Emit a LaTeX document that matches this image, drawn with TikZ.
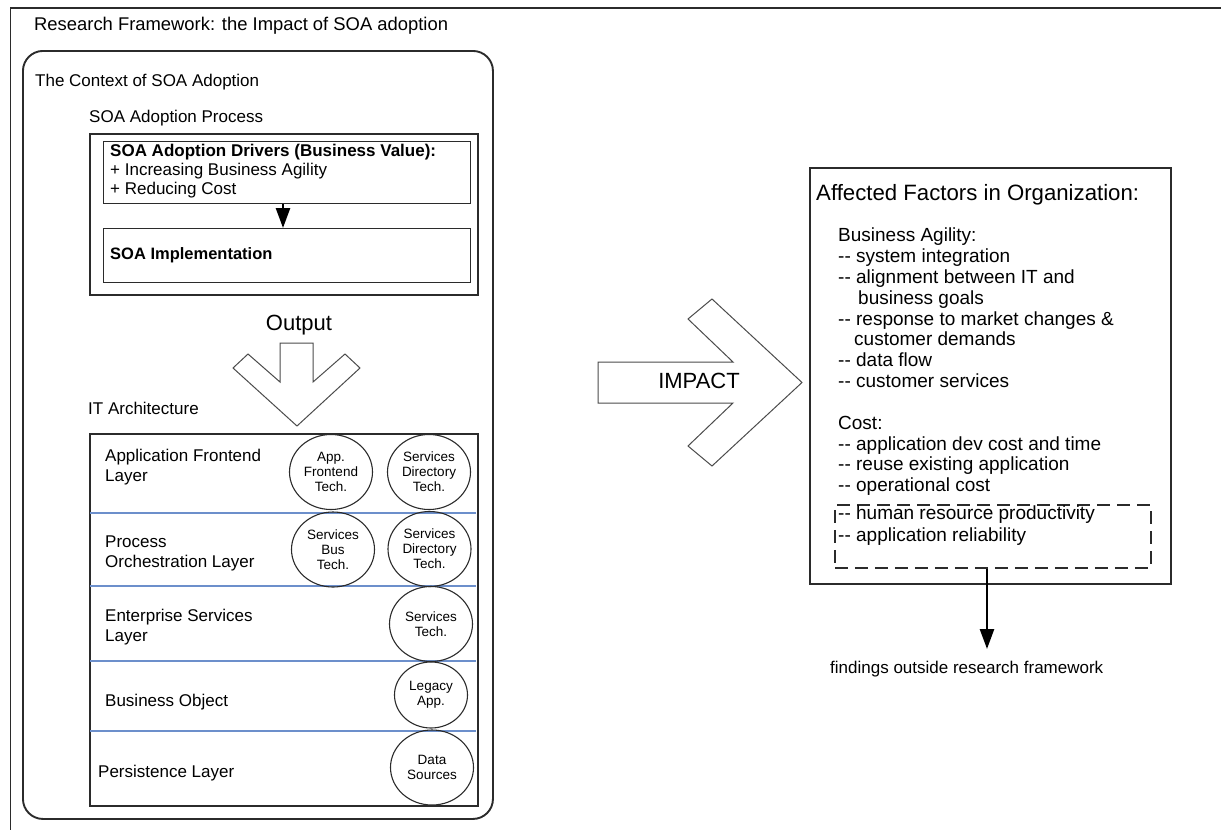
\documentclass[tikz,border=0pt]{standalone}
\usepackage{fontspec}
\setmainfont{Liberation Sans}
\usetikzlibrary{shapes.geometric,arrows.meta}

\definecolor{edge}{HTML}{2B2B2B}
\definecolor{sepblue}{HTML}{6C8FCB}
\newcommand{\dblhy}{-{}-}

\tikzset{
  lbl/.style={anchor=west, align=left, inner sep=0pt, font=\fontsize{17}{20}\selectfont},
  listline/.style={anchor=base west, inner sep=0pt, font=\fontsize{19}{21}\selectfont},
  tech/.style={draw=edge, line width=1.1pt, ellipse, inner sep=0pt,
    minimum width=83pt, minimum height=75pt, align=center,
    font=\fontsize{13.5}{15}\selectfont},
  heavybox/.style={draw=edge, line width=1.9pt, rectangle, inner sep=0pt, anchor=north west},
  lightbox/.style={draw=edge, line width=1.2pt, rectangle, inner sep=0pt, anchor=north west},
  bigarrow/.style={draw=edge!85, line width=1pt, line join=miter},
  flow/.style={draw=black, line width=2.6pt, -{Triangle[length=20pt,width=14pt]}},
  sepline/.style={draw=sepblue, line width=1.1pt},
}

\begin{document}
\begin{tikzpicture}[x=1pt,y=-1pt]
\useasboundingbox (0,0) rectangle (1221,830);

% outer frame (only its top and left edges fall inside the page)
\draw[edge, line width=1.6pt] (10.5,830) -- (10.5,8) -- (1221,8);
\node[lbl, font=\fontsize{18.4}{22}\selectfont] (title) at (34,26) {Research Framework: the Impact of SOA adoption};

% context of adoption
\node[draw=edge, line width=1.9pt, rounded corners=20pt, inner sep=0pt, anchor=north west,
      minimum width=470pt, minimum height=768pt] (ctx) at (22,50) {};
\node[lbl] (ctxlbl) at (35,82) {The Context of SOA Adoption};
\node[lbl] (proclbl) at (89,118) {SOA Adoption Process};

% adoption process
\node[heavybox, minimum width=388pt, minimum height=161pt] (proc) at (89,133) {};
\node[lightbox, minimum width=367pt, minimum height=62pt] (drv) at (103,141) {};
\node[lightbox, minimum width=367pt, minimum height=54pt] (impl) at (103,228) {};
\node[lbl, font=\fontsize{17}{19}\selectfont] (drvtxt) at (110,171)
  {\textbf{SOA Adoption Drivers (Business Value):}\\+ Increasing Business Agility\\+ Reducing Cost};
\node[lbl, font=\bfseries\fontsize{16.5}{19}\selectfont] (impltxt) at (110,255) {SOA Implementation};
\draw[flow] (drv.south -| 283,0) -- (impl.north -| 283,0);

% output chevron
\node[inner sep=0pt, font=\fontsize{22}{24}\selectfont] (outlbl) at (299,325) {Output};
\draw[bigarrow] (280,343) -- (313,343) -- (313,382) -- (345,354) -- (360,368)
  -- (297,426) -- (233,368) -- (248,354) -- (280,382) -- cycle;

% IT architecture
\node[lbl] (itlbl) at (88,408) {IT Architecture};
\node[heavybox, minimum width=388pt, minimum height=372pt] (it) at (89,433) {};
\draw[sepline] (90,513) -- (476,513);
\draw[sepline] (90,586) -- (476,586);
\draw[sepline] (90,661) -- (476,661);
\draw[sepline] (90,731) -- (476,731);

\node[lbl] (l1) at (105,467) {Application Frontend\\Layer};
\node[lbl] (l2) at (105,553) {Process\\Orchestration Layer};
\node[lbl] (l3) at (105,627) {Enterprise Services\\Layer};
\node[lbl] (l4) at (105,702) {Business Object};
\node[lbl] (l5) at (98,773) {Persistence Layer};

\node[tech] (c11) at (331,472) {App.\\Frontend\\Tech.};
\node[tech] (c12) at (429,472) {Services\\Directory\\Tech.};
\node[tech] (c21) at (333,549.5) {Services\\Bus\\Tech.};
\node[tech] (c22) at (429.5,549) {Services\\Directory\\Tech.};
\node[tech] (c31) at (431,624) {Services\\Tech.};
\node[tech, minimum width=73pt, minimum height=66pt] (c41) at (431,695) {Legacy\\App.};
\node[tech] (c51) at (432,767.5) {Data\\Sources};

% impact arrow
\draw[bigarrow] (598,362) -- (733,362) -- (688,319) -- (712,299) -- (802,382.5)
  -- (712,466) -- (688,446) -- (733,403) -- (598,403) -- cycle;
\node[inner sep=0pt, font=\fontsize{22}{24}\selectfont] (impact) at (699,381) {IMPACT};

% affected factors
\node[heavybox, minimum width=361pt, minimum height=416pt] (fac) at (809,167) {};
\node[lbl, font=\fontsize{22.2}{24}\selectfont] (factitle) at (816,195) {Affected Factors in Organization:};
\foreach \x/\t [count=\i] in {
  838/Business Agility:,
  838/\dblhy{} system integration,
  838/\dblhy{} alignment between IT and,
  858/business goals,
  838/\dblhy{} response to market changes \&,
  854/customer demands,
  838/\dblhy{} data flow,
  838/\dblhy{} customer services,
  838/{},
  838/Cost:,
  838/\dblhy{} application dev cost and time,
  838/\dblhy{} reuse existing application,
  838/\dblhy{} operational cost}
  \node[listline] (fl\i) at (\x,{235+(\i-1)*20.83+6.8}) {\t};

\node[draw=edge, line width=1.9pt, dash pattern=on 13pt off 7pt, rectangle, inner sep=0pt,
      anchor=north west, minimum width=316pt, minimum height=63pt] (extra) at (834,504) {};
\node[listline] (hr) at (838,519.8) {\dblhy{} human resource productivity};
\node[listline] (ar) at (838,541.8) {\dblhy{} application reliability};

\coordinate (ftip) at (987,649);
\draw[flow] (extra.south -| ftip) -- (ftip);
\node[lbl] (findings) at (830,669) {findings outside research framework};
\end{tikzpicture}
\end{document}
